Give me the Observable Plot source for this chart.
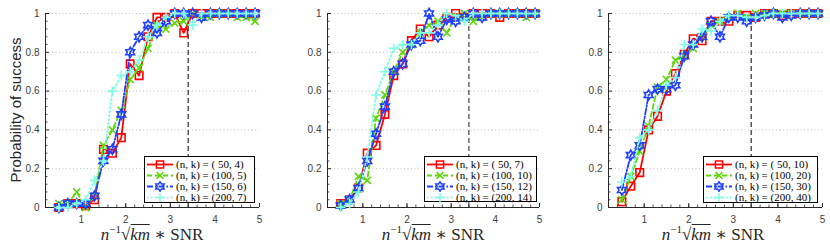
<!DOCTYPE html>
<html><head><meta charset="utf-8">
<script src="https://cdn.jsdelivr.net/npm/d3@7"></script>
<script src="https://cdn.jsdelivr.net/npm/@observablehq/plot@0.6"></script>
<style>
body{margin:0;background:#fff;}
#wrap{position:relative;width:830px;height:245px;overflow:hidden;background:#fff;}
.panel{position:absolute;top:0;}
.legend{position:absolute;background:#fff;border:1px solid #000;box-sizing:border-box;padding:2px 0 0 2px;font-family:"Liberation Serif","DejaVu Serif",serif;font-size:11px;color:#000;}
.row{display:flex;align-items:center;height:11px;white-space:pre;line-height:11px;}
.row svg{flex:none;margin-right:3px;}
.xlab{position:absolute;font-family:"Liberation Serif","DejaVu Serif",serif;font-size:17px;line-height:17px;color:#262626;white-space:nowrap;transform:translateX(-50%);}
.xlab .sup{font-size:11px;position:relative;top:-7px;}
.xlab .ov{border-top:1px solid #262626;padding-top:0px;}
.ylab{position:absolute;left:15px;top:110px;transform:translate(-50%,-50%) rotate(-90deg);font-family:"Liberation Sans",Arial,sans-serif;font-size:15px;color:#262626;white-space:nowrap;}
</style></head>
<body><div id="wrap"></div>
<script>
// ---------- data ----------
const snr = [0.5,0.7,0.9,1.1,1.3,1.5,1.7,1.9,2.1,2.3,2.5,2.7,2.9,3.1,3.3,3.5,3.7,3.9,4.1,4.3,4.5,4.7,4.9];

const labels1 = ["(n, k) = ( 50, 4)","(n, k) = (100, 5)","(n, k) = (150, 6)","(n, k) = (200, 7)"];
const labels2 = ["(n, k) = ( 50, 7)","(n, k) = (100, 10)","(n, k) = (150, 12)","(n, k) = (200, 14)"];
const labels3 = ["(n, k) = ( 50, 10)","(n, k) = (100, 20)","(n, k) = (150, 30)","(n, k) = (200, 40)"];

const p1s1 = [0.00,0.02,0.02,0.01,0.04,0.30,0.28,0.36,0.74,0.68,0.88,0.98,0.98,1.00,0.90,1.00,1.00,1.00,1.00,1.00,1.00,1.00,1.00];
const p1s2 = [0.02,0.02,0.08,0.00,0.06,0.32,0.40,0.50,0.66,0.72,0.82,0.94,0.92,0.95,0.96,1.00,0.98,0.98,1.00,1.00,0.98,0.98,0.96];
const p1s3 = [0.00,0.02,0.02,0.02,0.06,0.24,0.30,0.48,0.80,0.88,0.94,0.90,0.96,1.00,1.00,1.00,0.98,1.00,1.00,1.00,1.00,1.00,1.00];
const p1s4 = [0.00,0.00,0.02,0.04,0.14,0.24,0.60,0.68,0.70,0.76,0.88,0.94,0.98,1.00,1.00,0.94,1.00,1.00,1.00,1.00,1.00,1.00,1.00];

const p2s1 = [0.02,0.04,0.10,0.28,0.32,0.48,0.68,0.74,0.86,0.92,0.88,0.94,0.98,1.00,0.98,1.00,1.00,1.00,0.98,1.00,1.00,1.00,1.00];
const p2s2 = [0.02,0.04,0.16,0.14,0.46,0.58,0.70,0.80,0.84,0.90,0.94,0.96,0.90,0.98,1.00,0.96,0.98,1.00,1.00,1.00,1.00,0.98,1.00];
const p2s3 = [0.01,0.04,0.10,0.24,0.38,0.52,0.70,0.74,0.84,0.86,1.00,0.88,0.97,0.96,0.98,1.00,0.98,1.00,1.00,1.00,1.00,1.00,1.00];
const p2s4 = [0.00,0.02,0.08,0.26,0.58,0.70,0.82,0.84,0.84,0.90,0.90,0.94,1.00,0.99,0.96,1.00,1.00,1.00,1.00,1.00,1.00,1.00,1.00];

const p3s1 = [0.03,0.11,0.18,0.40,0.47,0.60,0.69,0.79,0.87,0.86,0.96,0.96,0.96,0.99,0.99,0.98,1.00,1.00,0.99,1.00,1.00,1.00,1.00];
const p3s2 = [0.04,0.16,0.29,0.42,0.62,0.66,0.76,0.78,0.82,0.88,0.94,0.96,0.98,1.00,0.98,1.00,1.00,1.00,1.00,1.00,1.00,1.00,1.00];
const p3s3 = [0.09,0.27,0.32,0.58,0.61,0.61,0.63,0.78,0.84,0.88,0.96,0.88,0.98,0.98,0.96,0.98,0.99,1.00,0.98,0.99,1.00,1.00,1.00];
const p3s4 = [0.13,0.16,0.36,0.40,0.50,0.63,0.67,0.84,0.84,0.92,0.91,0.96,0.99,0.99,0.98,0.98,0.99,1.00,1.00,1.00,1.00,1.00,1.00];

const thresholds = [3.4, 3.4, 3.4];
const xTicks = [1,2,3,4,5];
const xMinor = [0.2,0.4,0.6,0.8,1,1.2,1.4,1.6,1.8,2,2.2,2.4,2.6,2.8,3,3.2,3.4,3.6,3.8,4,4.2,4.4,4.6,4.8,5];
const yTicks = [0,0.2,0.4,0.6,0.8,1];
const yMinor = [0.04,0.08,0.12,0.16,0.24,0.28,0.32,0.36,0.44,0.48,0.52,0.56,0.64,0.68,0.72,0.76,0.84,0.88,0.92,0.96];
const xDomain = [0.2, 5];
const yDomain = [0, 1];

// ---------- styles ----------
const symSquare = {draw(c, s){const r=Math.sqrt(s/Math.PI)*0.9; c.moveTo(-r,-r); c.lineTo(r,-r); c.lineTo(r,r); c.lineTo(-r,r); c.closePath();}};
const symTimes = {draw(c, s){const r=Math.sqrt(s/Math.PI)*0.85; c.moveTo(-r,-r); c.lineTo(r,r); c.moveTo(r,-r); c.lineTo(-r,r);}};
const symPlus = {draw(c, s){const r=Math.sqrt(s/Math.PI)*1.15; c.moveTo(-r,0); c.lineTo(r,0); c.moveTo(0,-r); c.lineTo(0,r);}};
const symHex = {draw(c, s){const R=Math.sqrt(s/Math.PI)*1.2, q=R/Math.sqrt(3);
  for(let i=0;i<12;i++){const a=-Math.PI/2+i*Math.PI/6, rr=i%2?q:R, x=rr*Math.cos(a), y=rr*Math.sin(a); if(i) c.lineTo(x,y); else c.moveTo(x,y);} c.closePath();}};

const seriesStyle = [
  {color:"#ff0000", dash:null, sym:symSquare, sw:1.8},
  {color:"#5fd80a", dash:"5,3", sym:symTimes, sw:1.8},
  {color:"#2040ff", dash:"6,2,1.5,2", sym:symHex, sw:1.8},
  {color:"#7fffe4", dash:"1.5,2.5", sym:symPlus, sw:1.8}
];

const panels = [
  {left:0, width:277, ml:45, mr:18, series:[p1s1,p1s2,p1s3,p1s4], labels:labels1, thr:thresholds[0], thrColor:"#000", thrW:1,
   leg:{left:144, top:156, w:111, h:47}, xlabCenter:152},
  {left:280, width:277, ml:47, mr:18, series:[p2s1,p2s2,p2s3,p2s4], labels:labels2, thr:thresholds[1], thrColor:"#666", thrW:1.5,
   leg:{left:424, top:156, w:113, h:46}, xlabCenter:433},
  {left:555, width:275, ml:53, mr:8, series:[p3s1,p3s2,p3s3,p3s4], labels:labels3, thr:thresholds[2], thrColor:"#000", thrW:1,
   leg:{left:703, top:156, w:115, h:47}, xlabCenter:713}
];

const H = 245, MT = 13, MB = 38;
const axisColor = "#262626";
const wrap = document.getElementById("wrap");

function symPath(sym, r){ const p = d3.path(); sym.draw(p, Math.PI*r*r); return p.toString(); }

panels.forEach((P, pi) => {
  const plotW = P.width - P.ml - P.mr, plotH = H - MT - MB;
  const marks = [
    Plot.ruleY(yTicks.filter(d => d > 0), {stroke:"#b0b0b0", strokeWidth:0.8, strokeDasharray:"1,2.5"}),
    Plot.ruleX([P.thr], {y1: yDomain[0], y2: yDomain[1], stroke:P.thrColor, strokeWidth:P.thrW, strokeDasharray:"5,3"}),
    Plot.ruleX([xDomain[0]], {y1: yDomain[0], y2: yDomain[1], stroke:axisColor, strokeWidth:1}),
    Plot.ruleY([yDomain[0]], {stroke:axisColor, strokeWidth:1}),
    Plot.tickY(yTicks, {y: d => d, insetRight: plotW - 4, stroke:axisColor}),
    Plot.tickY(yMinor, {y: d => d, insetRight: plotW - 2.5, stroke:axisColor, strokeWidth:0.8}),
    Plot.tickX(xTicks, {x: d => d, insetTop: plotH - 4, stroke:axisColor}),
    Plot.tickX(xMinor, {x: d => d, insetTop: plotH - 2.5, stroke:axisColor, strokeWidth:0.8}),
    Plot.axisX({ticks: xTicks, tickSize: 0, tickPadding: 8, label: null, tickFormat: d => String(d)}),
    Plot.axisY({ticks: yTicks, tickSize: 0, tickPadding: 6, label: null, tickFormat: d => String(d)})
  ];
  P.series.forEach((vals, si) => {
    const st = seriesStyle[si];
    const rows = snr.map((x, i) => ({x, y: vals[i]}));
    marks.push(Plot.line(rows, {x:"x", y:"y", stroke:st.color, strokeWidth:st.sw, strokeDasharray:st.dash || undefined}));
    marks.push(Plot.dot(rows, {x:"x", y:"y", symbol:st.sym, r:4.2, stroke:st.color, fill:"none", strokeWidth:1.6}));
  });
  const chart = Plot.plot({
    width: P.width, height: H,
    marginLeft: P.ml, marginRight: P.mr, marginTop: MT, marginBottom: MB,
    x: {domain: xDomain},
    y: {domain: yDomain},
    style: {fontFamily: "'Liberation Sans', Arial, sans-serif", fontSize: "10px", color: "#404040", background: "transparent", overflow: "visible"},
    marks
  });
  const div = document.createElement("div");
  div.className = "panel";
  div.style.left = P.left + "px";
  div.appendChild(chart);
  wrap.appendChild(div);

  // legend
  const leg = document.createElement("div");
  leg.className = "legend";
  Object.assign(leg.style, {left: P.leg.left+"px", top: P.leg.top+"px", width: P.leg.w+"px", height: P.leg.h+"px"});
  P.labels.forEach((lab, si) => {
    const st = seriesStyle[si];
    const row = document.createElement("div");
    row.className = "row";
    row.innerHTML = `<svg width="26" height="11" viewBox="0 0 26 11"><line x1="0" y1="5.5" x2="26" y2="5.5" stroke="${st.color}" stroke-width="${st.sw}" ${st.dash ? `stroke-dasharray="${st.dash}"` : ""}/><path transform="translate(13,5.5)" d="${symPath(st.sym, 4)}" fill="none" stroke="${st.color}" stroke-width="1.5"/></svg><span>${lab}</span>`;
    leg.appendChild(row);
  });
  wrap.appendChild(leg);

  // x label
  const xl = document.createElement("div");
  xl.className = "xlab";
  xl.style.left = P.xlabCenter + "px";
  xl.style.top = "226px";
  xl.innerHTML = `<i>n</i><span class="sup">\u22121</span>\u221A<span class="ov"><i>km</i></span> \u2217 SNR`;
  wrap.appendChild(xl);
});

const yl = document.createElement("div");
yl.className = "ylab";
yl.textContent = "Probability of success";
wrap.appendChild(yl);
</script>
</body></html>
